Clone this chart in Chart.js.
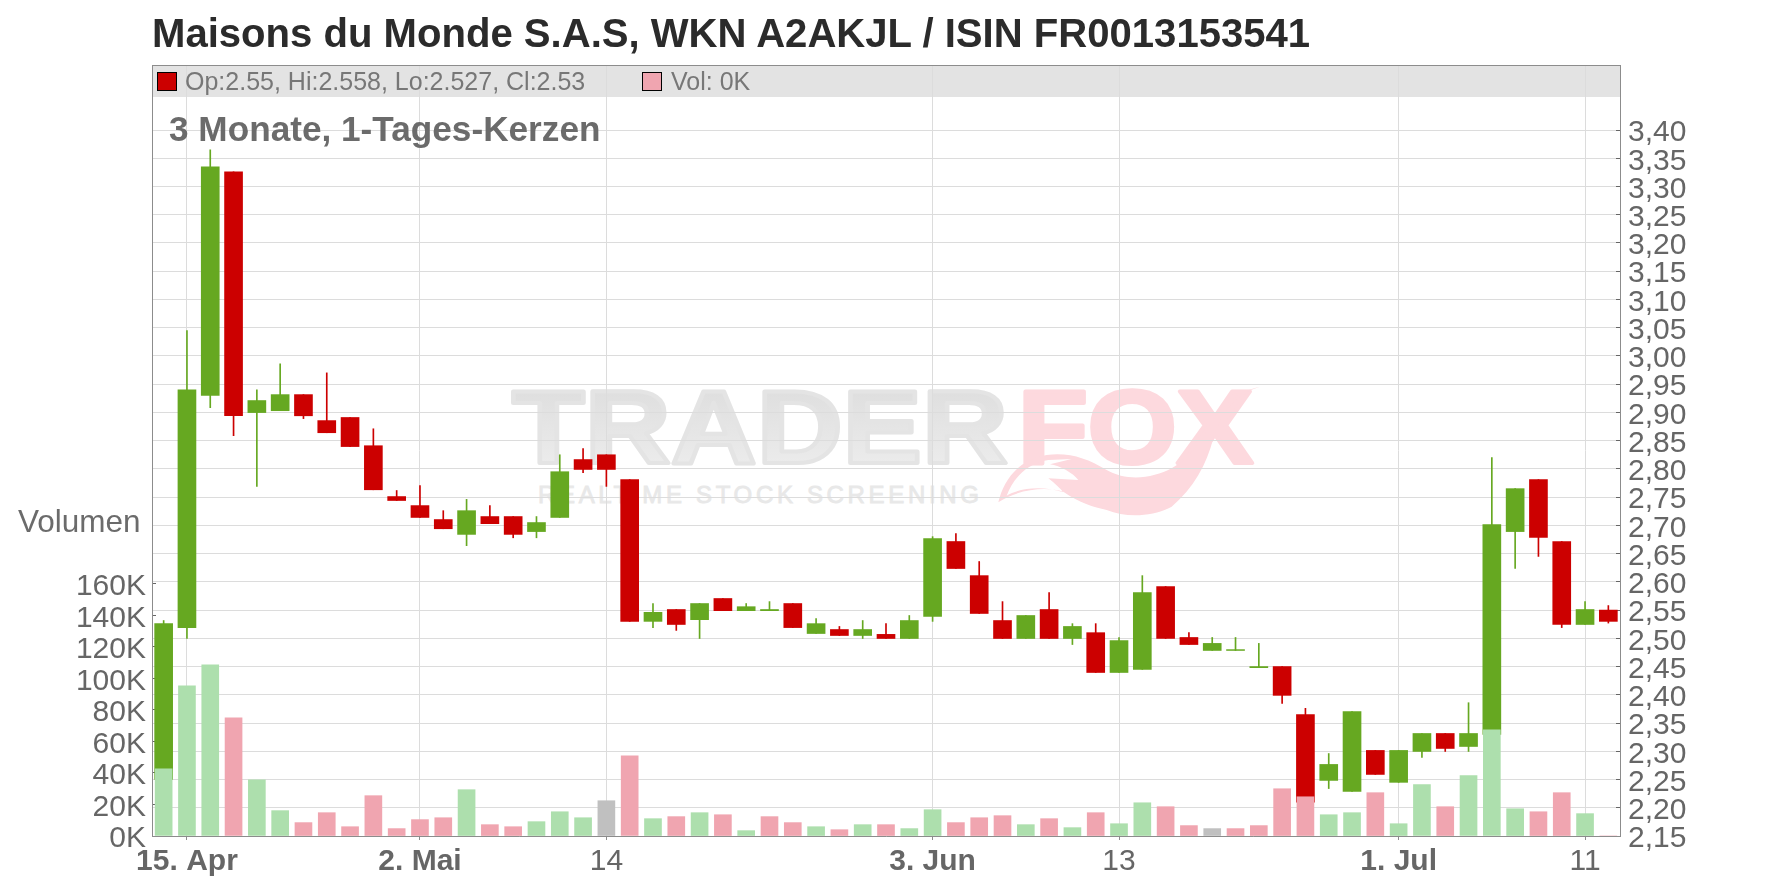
<!DOCTYPE html>
<html lang="de">
<head>
<meta charset="utf-8">
<title>Maisons du Monde S.A.S</title>
<script src="https://cdn.jsdelivr.net/npm/chart.js@4/dist/chart.umd.min.js"></script>
<style>
  html, body { margin: 0; padding: 0; background: #fff; }
  #wrap { position: relative; width: 1776px; height: 888px; overflow: hidden; font-family: "Liberation Sans", Arial, sans-serif; }
  #logo, #chart { position: absolute; left: 0; top: 0; }
  .txt { position: absolute; white-space: nowrap; line-height: 1; color: #6b6b6b; }
  .swatch { position: absolute; box-sizing: border-box; border: 1px solid #000; }
</style>
</head>
<body>
<div id="wrap">
  <svg id="logo" width="1776" height="888" viewBox="0 0 1776 888">
    <defs>
      <linearGradient id="grau" x1="0" y1="0" x2="0" y2="1">
        <stop offset="0" stop-color="#dbdbdb"/><stop offset="1" stop-color="#efefef"/>
      </linearGradient>
    </defs>
    <text x="512" y="463" font-family="Liberation Sans" font-weight="bold" font-size="103" fill="url(#grau)" stroke="#e4e4e4" stroke-width="4" stroke-linejoin="round" textLength="496" lengthAdjust="spacingAndGlyphs">TRADER</text>
    <text x="1018" y="463" font-family="Liberation Sans" font-weight="bold" font-size="103" fill="#fdd9de" stroke="#fdd9de" stroke-width="4" stroke-linejoin="round" textLength="235" lengthAdjust="spacingAndGlyphs">FOX</text>
    <text x="538" y="503" font-family="Liberation Sans" font-size="24" fill="#e8e8e8" stroke="#e8e8e8" stroke-width="0.8" textLength="441" lengthAdjust="spacing">REALTIME STOCK SCREENING</text>
    <g transform="translate(980,375) scale(0.3333)">
      <path fill="#fdd9de" fill-rule="evenodd" d="M55,382 C70,320 110,255 200,240 C270,232 320,250 380,285 C440,320 520,310 575,280 C630,250 660,200 680,170 C700,120 760,50 840,35 C770,55 725,110 700,190 C680,270 640,340 575,395 C520,425 440,430 380,405 C340,395 300,385 250,350 C200,335 120,340 55,382 Z M80,362 C100,310 140,265 205,255 L275,252 L210,268 C240,272 280,295 295,315 L205,310 C225,325 240,340 250,352 C190,332 120,338 80,362 Z"/>
    </g>
  </svg>
  <canvas id="chart" width="1776" height="888"></canvas>
  <div class="txt" style="left:152px;top:13px;font-size:40.1px;font-weight:bold;color:#2b2b2b">Maisons du Monde S.A.S, WKN A2AKJL / ISIN FR0013153541</div>
  <div class="swatch" style="left:157px;top:72px;width:20px;height:19px;background:#cc0000"></div>
  <div class="txt" style="left:185px;top:69px;font-size:25px;color:#777">Op:2.55, Hi:2.558, Lo:2.527, Cl:2.53</div>
  <div class="swatch" style="left:642px;top:72px;width:20px;height:19px;background:#f0a5b0"></div>
  <div class="txt" style="left:671px;top:69px;font-size:25px;color:#777">Vol: 0K</div>
  <div class="txt" style="left:169px;top:111px;font-size:35.2px;font-weight:bold">3 Monate, 1-Tages-Kerzen</div>
  <div class="txt" style="left:18px;top:506px;font-size:31.5px">Volumen</div>
</div>
<script>
// Kerzen, von links nach rechts
const categories = ["", "15. Apr", "", "", "", "", "", "", "", "", "", "2. Mai", "", "", "", "", "", "", "", "14", "", "", "", "", "", "", "", "", "", "", "", "", "", "3. Jun", "", "", "", "", "", "", "", "13", "", "", "", "", "", "", "", "", "", "", "", "1. Jul", "", "", "", "", "", "", "", "11", ""];
const boldLabels = ["15. Apr", "2. Mai", "3. Jun", "1. Jul"];

const openPrices = [2.25, 2.519, 2.93, 3.326, 2.8997, 2.903, 2.9315, 2.8855, 2.891, 2.841, 2.751, 2.735, 2.7103, 2.684, 2.7156, 2.7156, 2.689, 2.714, 2.8165, 2.825, 2.781, 2.53, 2.551, 2.533, 2.5705, 2.549, 2.549, 2.5616, 2.5085, 2.5156, 2.505, 2.507, 2.4997, 2.5386, 2.6714, 2.611, 2.5315, 2.4997, 2.551, 2.4997, 2.51, 2.4395, 2.445, 2.5917, 2.5015, 2.4785, 2.4785, 2.448, 2.45, 2.365, 2.2484, 2.229, 2.3015, 2.245, 2.2997, 2.3315, 2.3085, 2.33, 2.689, 2.781, 2.6714, 2.5245, 2.55];
const highPrices = [2.5315, 3.045, 3.365, 3.326, 2.94, 2.986, 2.9315, 2.97, 2.891, 2.871, 2.7617, 2.7705, 2.726, 2.746, 2.735, 2.7156, 2.7156, 2.825, 2.836, 2.825, 2.781, 2.5616, 2.551, 2.5616, 2.5705, 2.5616, 2.565, 2.5616, 2.535, 2.521, 2.5315, 2.526, 2.5404, 2.68, 2.6855, 2.636, 2.565, 2.5404, 2.581, 2.526, 2.526, 2.5015, 2.611, 2.5917, 2.51, 2.5015, 2.5015, 2.491, 2.45, 2.376, 2.296, 2.3705, 2.3015, 2.3015, 2.3315, 2.3315, 2.386, 2.82, 2.765, 2.781, 2.6714, 2.565, 2.558];
const lowPrices = [2.25, 2.4997, 2.9085, 2.859, 2.769, 2.903, 2.889, 2.864, 2.8395, 2.763, 2.744, 2.714, 2.694, 2.664, 2.703, 2.678, 2.678, 2.714, 2.7935, 2.769, 2.53, 2.519, 2.514, 2.4997, 2.549, 2.549, 2.549, 2.519, 2.5085, 2.505, 2.4997, 2.4997, 2.4997, 2.53, 2.6236, 2.544, 2.4997, 2.4997, 2.4997, 2.489, 2.4395, 2.4395, 2.445, 2.4997, 2.489, 2.4785, 2.4785, 2.448, 2.3846, 2.21, 2.234, 2.229, 2.259, 2.245, 2.289, 2.2997, 2.2997, 2.33, 2.6236, 2.645, 2.519, 2.5245, 2.527];
const closePrices = [2.526, 2.94, 3.335, 2.894, 2.921, 2.9315, 2.894, 2.864, 2.8395, 2.763, 2.744, 2.714, 2.694, 2.726, 2.703, 2.684, 2.705, 2.795, 2.799, 2.799, 2.53, 2.546, 2.5245, 2.5616, 2.549, 2.556, 2.551, 2.519, 2.526, 2.505, 2.5156, 2.4997, 2.5315, 2.6767, 2.6236, 2.544, 2.4997, 2.5404, 2.4997, 2.521, 2.4395, 2.496, 2.581, 2.4997, 2.489, 2.491, 2.48, 2.45, 2.399, 2.21, 2.2767, 2.3705, 2.259, 2.3015, 2.3315, 2.305, 2.3315, 2.7015, 2.765, 2.6785, 2.5245, 2.551, 2.53];

// Volumen in Tausend, Richtung: u = hoch, d = runter, n = unveraendert
const volumes = [42.7, 95.3, 108.7, 75, 35.7, 16.1, 8.5, 14.8, 5.9, 25.6, 4.7, 10.4, 11.6, 29.4, 7.2, 5.9, 9.1, 15.4, 11.6, 22.4, 50.9, 11, 12.3, 14.8, 13.5, 3.4, 12.3, 8.5, 5.9, 4, 7.2, 7.2, 4.7, 16.7, 8.5, 11.6, 12.9, 7.2, 11, 5.3, 14.8, 7.8, 21.1, 18.6, 6.6, 4.7, 4.7, 6.6, 30, 24.9, 13.5, 14.8, 27.5, 7.8, 32.6, 18.6, 38.3, 67.4, 17.3, 15.4, 27.5, 14.2, 0];
const volumeDirs = ["u", "u", "u", "d", "u", "u", "d", "d", "d", "d", "d", "d", "d", "u", "d", "d", "u", "u", "u", "n", "d", "u", "d", "u", "d", "u", "d", "d", "u", "d", "u", "d", "u", "u", "d", "d", "d", "u", "d", "u", "d", "u", "u", "d", "d", "n", "d", "d", "d", "d", "u", "u", "d", "u", "u", "d", "u", "u", "u", "d", "d", "u", "d"];

const priceTicks = [2.15, 2.2, 2.25, 2.3, 2.35, 2.4, 2.45, 2.5, 2.55, 2.6, 2.65, 2.7, 2.75, 2.8, 2.85, 2.9, 2.95, 3, 3.05, 3.1, 3.15, 3.2, 3.25, 3.3, 3.35, 3.4];
const volumeTicks = [0, 20, 40, 60, 80, 100, 120, 140, 160];

const GREEN = "#66a821";
const RED = "#cc0000";
const VOL_COLORS = { u: "#addfad", d: "#f0a5b0", n: "#c0c0c0" };
const candleColors = closePrices.map((c, i) => (c >= openPrices[i] ? GREEN : RED));

const frame = {
  id: "frame",
  beforeDraw(chart) {
    const { ctx, chartArea: a } = chart;
    ctx.save();
    ctx.fillStyle = "#e3e3e3";
    ctx.fillRect(a.left, a.top, a.right - a.left, 32);
    ctx.restore();
  },
  afterDraw(chart) {
    const { ctx, chartArea: a } = chart;
    ctx.save();
    ctx.fillStyle = "#8c8c8c";
    ctx.fillRect(a.left, a.top, a.right - a.left + 1, 1);
    ctx.restore();
  }
};

new Chart(document.getElementById("chart"), {
  type: "bar",
  plugins: [frame],
  data: {
    labels: categories,
    datasets: [
      {
        label: "Volumen", yAxisID: "yVol", order: 1, grouped: false, barThickness: 17,
        data: volumes, backgroundColor: volumeDirs.map((d) => VOL_COLORS[d])
      },
      {
        label: "Kerze", yAxisID: "y", order: 2, grouped: false, barThickness: 18,
        data: openPrices.map((o, i) => [o, closePrices[i]]), backgroundColor: candleColors
      },
      {
        label: "Docht", yAxisID: "y", order: 3, grouped: false, barThickness: 1,
        data: lowPrices.map((l, i) => [l, highPrices[i]]), backgroundColor: candleColors
      }
    ]
  },
  options: {
    responsive: false,
    animation: false,
    devicePixelRatio: 1,
    layout: { padding: { top: 65 } },
    plugins: { legend: { display: false }, title: { display: false }, tooltip: { enabled: false } },
    scales: {
      x: {
        offset: true,
        afterFit(s) { s.height = 52; },
        afterBuildTicks(s) { s.ticks = s.ticks.filter((t) => categories[t.value] !== ""); },
        grid: { offset: false, color: "#dcdcdc", tickColor: "#8c8c8c", tickLength: 4 },
        border: { color: "#8c8c8c" },
        ticks: {
          autoSkip: false, maxRotation: 0, padding: 4, color: "#666",
          font: (c) => ({ family: "Liberation Sans", size: 30, weight: c.tick && boldLabels.includes(categories[c.tick.value]) ? "bold" : "normal" })
        }
      },
      yVol: {
        position: "left", min: 0, max: 489.5,
        afterFit(s) { s.width = 152; },
        afterBuildTicks(s) { s.ticks = volumeTicks.map((v) => ({ value: v })); },
        grid: { drawOnChartArea: false, tickColor: "#666", tickLength: -4 },
        border: { color: "#8c8c8c" },
        ticks: {
          autoSkip: false, padding: 10, labelOffset: 3, color: "#666", font: { family: "Liberation Sans", size: 30 },
          callback: (v) => v + "K"
        }
      },
      y: {
        position: "right", min: 2.15, max: 3.5151,
        afterFit(s) { s.width = 156; },
        afterBuildTicks(s) { s.ticks = priceTicks.map((v) => ({ value: v })); },
        grid: { color: "#dcdcdc", tickColor: "#666", tickLength: -4 },
        border: { color: "#8c8c8c" },
        ticks: {
          autoSkip: false, padding: 12, labelOffset: 3, color: "#666", font: { family: "Liberation Sans", size: 30 },
          callback: (v) => v.toFixed(2).replace(".", ",")
        }
      }
    }
  }
});
</script>
</body>
</html>
